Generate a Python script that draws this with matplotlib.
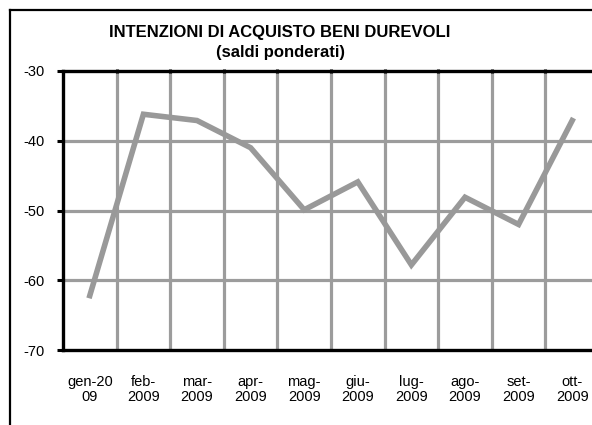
import matplotlib.pyplot as plt
from matplotlib.lines import Line2D

# monthly data, weighted balances
months = ['gen-20\n09', 'feb-\n2009', 'mar-\n2009', 'apr-\n2009', 'mag-\n2009',
          'giu-\n2009', 'lug-\n2009', 'ago-\n2009', 'set-\n2009', 'ott-\n2009']
values = [-62.2, -36.2, -37.1, -41.0, -49.9, -45.9, -57.8, -48.1, -52.0, -37.1]
y_ticks = [-70, -60, -50, -40, -30]

plt.rcParams['font.family'] = ['Liberation Sans', 'DejaVu Sans']

fig = plt.figure(figsize=(5.92, 4.25), dpi=100)
ax = fig.add_axes([63 / 592, 1 - 350 / 425, 536 / 592, 279 / 425])

x = list(range(len(months)))

# grid, excel style
for k in range(len(months)):
    ax.axvline(k + 0.5, color='#9c9c9c', lw=2.3, zorder=1)
for yv in y_ticks[1:-1]:
    ax.axhline(yv, color='#9c9c9c', lw=2.3, zorder=1)

ax.plot(x, values, color='#999999', lw=4, solid_joinstyle='miter', zorder=3)

ax.set_xlim(-0.5, len(months) - 0.5)
ax.set_ylim(-70, -30)
ax.set_yticks(y_ticks)
ax.set_yticklabels([str(v) for v in y_ticks], fontsize=10.5)
ax.set_xticks(x)
ax.set_xticklabels(months, fontsize=10.5, linespacing=1.1)
ax.tick_params(axis='x', length=0, pad=18)
ax.tick_params(axis='y', length=4, width=2.2, direction='out', pad=9)

# small black marks on the top edge above each vertical gridline
ax.set_xticks([k + 0.5 for k in range(len(months))], minor=True)
ax.tick_params(axis='x', which='minor', top=True, bottom=False,
               length=3, width=2.2, direction='inout')

for side in ['left', 'bottom', 'top']:
    ax.spines[side].set_linewidth(2.4)
    ax.spines[side].set_color('black')
ax.spines['right'].set_visible(False)

fig.text(280 / 592, 1 - 33 / 425, 'INTENZIONI DI ACQUISTO BENI DUREVOLI',
         ha='center', va='center', fontsize=12, fontweight='bold')
fig.text(281 / 592, 1 - 53 / 425, '(saldi ponderati)',
         ha='center', va='center', fontsize=12, fontweight='bold')

# outer chart frame (cut off at right and bottom)
fig.add_artist(Line2D([10 / 592, 1], [1 - 10 / 425, 1 - 10 / 425],
                      color='black', lw=1.6, transform=fig.transFigure))
fig.add_artist(Line2D([10 / 592, 10 / 592], [0, 1 - 10 / 425],
                      color='black', lw=1.6, transform=fig.transFigure))

fig.savefig('out.png', dpi=100)
